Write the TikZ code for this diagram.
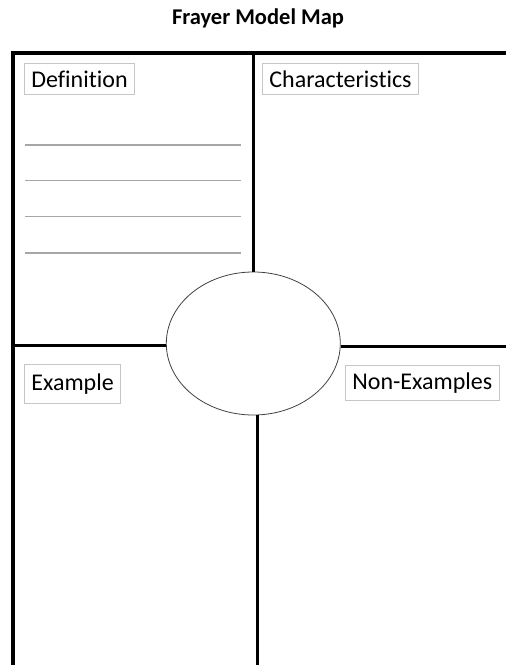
\documentclass[tikz,border=0pt]{standalone}
\usepackage{fontspec}
\setmainfont{Carlito}[Ligatures=NoCommon]
\usetikzlibrary{shapes.geometric}

\tikzset{
  frame/.style={line width=3.4pt,black},
  label/.style={draw=gray!45,line width=0.8pt,anchor=north west,inner xsep=7pt,font=\fontsize{24}{27}\selectfont},
  rule/.style={gray!70,line width=1.2pt}
}

\begin{document}
\begin{tikzpicture}[x=1pt,y=-1pt]
  \useasboundingbox (0,0) rectangle (506,665);
  \node[font=\bfseries\fontsize{22.5}{26}\selectfont] (title) at (258,18) {Frayer Model Map};

  % outer frame
  \coordinate (tl) at (13,53);
  \coordinate (tr) at (507,53);
  \coordinate (bl) at (13,666);
  \draw[frame] (tr) -- (tl) -- (bl);

  % centre oval and the cross
  \node[draw,ellipse,line width=0.8pt,black!75,minimum width=174,minimum height=143,inner sep=0pt] (center) at (253.3,343.5) {};
  \coordinate (top) at (253,53);
  \coordinate (bottom) at (257,666);
  \coordinate (left) at (13,345.5);
  \coordinate (right) at (507,346);
  \draw[frame,line width=3pt] (top) -- (top |- center.north);
  \draw[frame,line width=3pt] (bottom |- center.south) -- (bottom);
  \draw[frame,line width=3pt] (left) -- (left -| center.west);
  \draw[frame,line width=3pt] (right -| center.east) -- (right);

  % writing lines
  \foreach \y in {145,180.5,216.5,253} \draw[rule] (25,\y) -- (241,\y);

  \node[label,minimum height=31] (definition) at (24,63) {Definition};
  \node[label,minimum height=31] (characteristics) at (262,63) {Characteristics};
  \node[label,minimum height=39] (example) at (24,364) {Example};
  \node[label,minimum height=35] (nonexamples) at (345,365) {Non-Examples};
\end{tikzpicture}
\end{document}
